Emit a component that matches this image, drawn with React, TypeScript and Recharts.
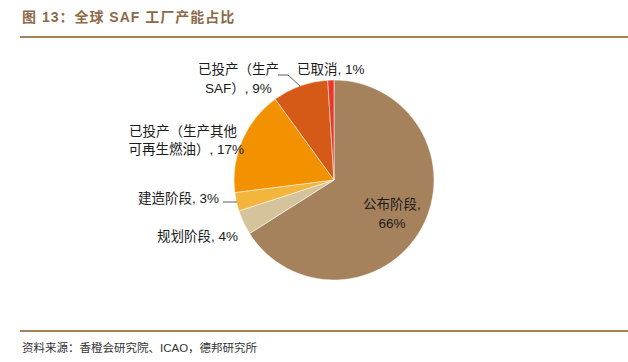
import { PieChart, Pie, Cell } from 'recharts';

const categories = ['公布阶段', '规划阶段', '建造阶段', '已投产（生产其他可再生燃油）', '已投产（生产SAF）', '已取消'];
const shares = [66, 4, 3, 17, 9, 1];
const labelLines = [
  ['公布阶段,', '66%'],
  ['规划阶段, 4%'],
  ['建造阶段, 3%'],
  ['已投产（生产其他', '可再生燃油）, 17%'],
  ['已投产（生产', 'SAF）, 9%'],
  ['已取消, 1%'],
];
const colors = ['#A5825C', '#D5C39C', '#F3B53C', '#F39200', '#D55A17', '#E8382A'];

const data = categories.map((name, i) => ({ name, value: shares[i] }));

const FONT = "'Liberation Sans', Arial, 'Noto Sans CJK SC', sans-serif";

// where each label sits relative to the pie centre
const labelPos: { dx: number; dy: number; anchor: 'start' | 'middle' | 'end' }[][] = [
  [{ dx: 58, dy: 24, anchor: 'middle' }, { dx: 58, dy: 43, anchor: 'middle' }],
  [{ dx: -96, dy: 56, anchor: 'end' }],
  [{ dx: -115, dy: 18, anchor: 'end' }],
  [{ dx: -97, dy: -49, anchor: 'end' }, { dx: -90, dy: -31, anchor: 'end' }],
  [{ dx: -136, dy: -111, anchor: 'start' }, { dx: -129, dy: -92, anchor: 'start' }],
  [{ dx: -37, dy: -111, anchor: 'start' }],
];

const renderLabel = (props: any) => {
  const { cx, cy, index } = props;
  const lines = labelLines[index];
  const pos = labelPos[index];
  return (
    <g key={`lbl-${index}`}>
      {lines.map((t, j) => (
        <text
          key={j}
          x={cx + pos[j].dx}
          y={cy + pos[j].dy}
          textAnchor={pos[j].anchor}
          dominantBaseline="central"
          fill="#1a1a1a"
          fontSize={13.5}
          fontFamily={FONT}
        >
          {t}
        </text>
      ))}
      {index === 2 && (
        <line x1={cx - 111} y1={cy + 22} x2={cx - 97} y2={cy + 22} stroke="#333" strokeWidth={0.8} />
      )}
      {index === 4 && (
        <polyline
          points={`${cx - 56},${cy - 105} ${cx - 46},${cy - 105} ${cx - 34},${cy - 94}`}
          fill="none"
          stroke="#333"
          strokeWidth={0.8}
        />
      )}
    </g>
  );
};

export default function App() {
  return (
    <div style={{ position: 'absolute', left: 0, top: 0, width: 628, height: 362, background: '#fff', fontFamily: FONT }}>
      <div style={{ position: 'absolute', left: 22, top: 6, fontSize: 14, fontWeight: 'bold', color: '#8C6A48', letterSpacing: 1 }}>
        图 13：全球 SAF 工厂产能占比
      </div>
      <div style={{ position: 'absolute', left: 20, top: 36, width: 608, height: 2, background: '#A5825C' }} />
      <div style={{ position: 'absolute', left: 0, top: 0 }}>
        <PieChart width={628} height={362} margin={{ top: 0, right: 0, bottom: 0, left: 0 }}>
          <Pie
            data={data}
            dataKey="value"
            nameKey="name"
            cx={334}
            cy={180}
            outerRadius={100}
            startAngle={90}
            endAngle={-270}
            stroke="#fff"
            strokeWidth={0.5}
            label={renderLabel}
            labelLine={false}
            isAnimationActive={false}
          >
            {data.map((d, i) => (
              <Cell key={d.name} fill={colors[i]} />
            ))}
          </Pie>
        </PieChart>
      </div>
      <div style={{ position: 'absolute', left: 20, top: 330, width: 608, height: 2, background: '#A5825C' }} />
      <div style={{ position: 'absolute', left: 22, top: 339, fontSize: 11.5, color: '#333' }}>
        资料来源：香橙会研究院、ICAO，德邦研究所
      </div>
    </div>
  );
}
